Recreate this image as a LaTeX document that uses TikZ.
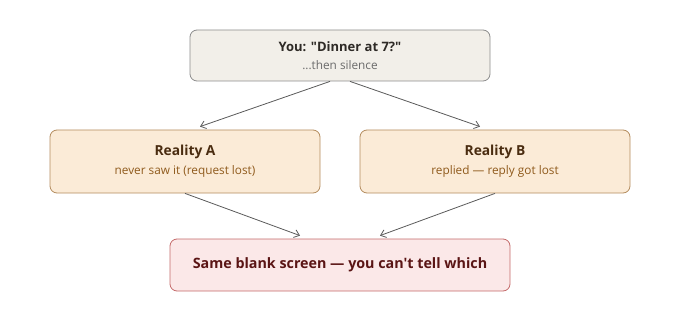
\documentclass[tikz,border=0pt]{standalone}
\usepackage{fontspec}
\setmainfont{Open Sans}[Ligatures=TeXOff]
\usetikzlibrary{arrows.meta,calc}
\definecolor{topfill}{HTML}{F2EFE9}
\definecolor{topdraw}{HTML}{8C8C8C}
\definecolor{topsub}{HTML}{6B6B6B}
\definecolor{topttl}{HTML}{2E2A26}
\definecolor{rfill}{HTML}{FBEBD7}
\definecolor{rdraw}{HTML}{B48C5E}
\definecolor{rttl}{HTML}{4A2C10}
\definecolor{rsub}{HTML}{8F5A1C}
\definecolor{bfill}{HTML}{FBE8E8}
\definecolor{bdraw}{HTML}{C46A6A}
\definecolor{bttl}{HTML}{5A1414}
\definecolor{arr}{HTML}{5A5A5A}
\begin{document}
\begin{tikzpicture}[x=1pt,y=-1pt,
  boxbase/.style={rounded corners=7pt, line width=0.8pt, align=center, inner sep=0pt},
  topbox/.style={boxbase, fill=topfill, draw=topdraw, minimum width=300pt, minimum height=51pt},
  realbox/.style={boxbase, fill=rfill, draw=rdraw, minimum width=270pt, minimum height=63pt},
  endbox/.style={boxbase, fill=bfill, draw=bdraw, minimum width=340pt, minimum height=52pt},
  ttl/.style={font=\fontsize{13}{15}\selectfont\bfseries},
  rttlf/.style={font=\fontsize{13.8}{16}\selectfont\bfseries},
  sub/.style={font=\fontsize{11.8}{14}\selectfont},
  conn/.style={draw=arr, line width=0.8pt, -{Straight Barb[length=5pt,width=8pt]}}
]
\useasboundingbox (0,0) rectangle (680,310);
\node[topbox] (top) at (340,55.5) {};
\node[ttl, text=topttl] (topt) at (340,46.5) {You: "Dinner at 7?"};
\node[sub, text=topsub] (tops) at (340,65.5) {...then silence};

\node[realbox] (a) at (185,161.5) {};
\node[rttlf, text=rttl] (at) at (185,151.5) {Reality A};
\node[sub, text=rsub] (as) at (185,171.5) {never saw it (request lost)};

\node[realbox] (b) at (495,161.5) {};
\node[rttlf, text=rttl] (bt) at (495,151.5) {Reality B};
\node[sub, text=rsub] (bs) at (495,171.5) {replied — reply got lost};

\node[endbox, font=\fontsize{14.3}{16}\selectfont\bfseries, text=bttl] (end) at (340,265) {Same blank screen — you can't tell which};

\draw[conn] ($(top.south)+(-10,0)$) -- ($(a.north)+(15,-3)$);
\draw[conn] ($(top.south)+(10,0)$) -- ($(b.north)+(-15,-3)$);
\draw[conn] (a.south) -- ($(end.north)+(-40,-3)$);
\draw[conn] (b.south) -- ($(end.north)+(40,-3)$);
\end{tikzpicture}
\end{document}
